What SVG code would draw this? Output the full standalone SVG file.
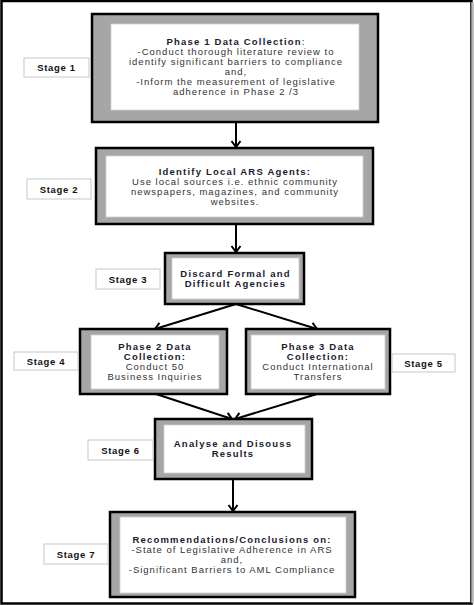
<svg xmlns="http://www.w3.org/2000/svg" width="474" height="605" viewBox="0 0 474 605">
<defs>
<style>
.outer{fill:#a6a6a6;stroke:#000;stroke-width:2.5}
.inner{fill:#fff;stroke:#d0d0d0;stroke-width:0.8}
.stage{fill:#fff;stroke:#c8c8c8;stroke-width:1}
.st{font-family:"Liberation Sans",Arial,sans-serif;font-size:9.5px;font-weight:bold;fill:#111;text-anchor:middle;letter-spacing:0.7px}
.t{font-family:"Liberation Sans",Arial,sans-serif;font-size:9.5px;fill:#333;text-anchor:middle;letter-spacing:1px}
.b{font-family:"Liberation Sans",Arial,sans-serif;font-size:9.5px;font-weight:bold;fill:#1a1a2e;text-anchor:middle;letter-spacing:1.2px}
.conn{stroke:#000;stroke-width:2;fill:none}
</style>
<marker id="ah" markerWidth="12" markerHeight="12" refX="9" refY="6" orient="auto" markerUnits="userSpaceOnUse">
<path d="M3,1.5 L9,6 L3,10.5" fill="none" stroke="#000" stroke-width="2"/>
</marker>
</defs>
<rect x="0" y="0" width="474" height="605" fill="#fff"/>
<rect x="1.5" y="1" width="470" height="602.5" fill="none" stroke="#000" stroke-width="2.5"/>
<line x1="472.5" y1="2" x2="472.5" y2="603" stroke="#b5b5b5" stroke-width="2.5"/>

<g id="connectors">
<line class="conn" x1="236" y1="122" x2="236" y2="147" marker-end="url(#ah)"/>
<line class="conn" x1="236" y1="224" x2="236" y2="252" marker-end="url(#ah)"/>
<line class="conn" x1="236" y1="304" x2="155" y2="329" marker-end="url(#ah)"/>
<line class="conn" x1="236" y1="304" x2="317" y2="329" marker-end="url(#ah)"/>
<line class="conn" x1="156" y1="394" x2="232" y2="419" marker-end="url(#ah)"/>
<line class="conn" x1="317" y1="394" x2="235" y2="419" marker-end="url(#ah)"/>
<line class="conn" x1="233" y1="479" x2="233" y2="511" marker-end="url(#ah)"/>
</g>

<g id="node1">
<rect class="outer" x="92" y="14" width="286" height="108"/>
<rect class="inner" x="111" y="24" width="248" height="86"/>
<text class="b" x="236" y="45">Phase 1 Data Collection<tspan font-weight="normal">:</tspan></text>
<text class="t" x="236" y="55">-Conduct thorough literature review to</text>
<text class="t" x="236" y="65">identify significant barriers to compliance</text>
<text class="t" x="236" y="75">and,</text>
<text class="t" x="236" y="85">-Inform the measurement of legislative</text>
<text class="t" x="236" y="95">adherence in Phase 2 /3</text>
</g>
<g id="stage1"><rect class="stage" x="24" y="58" width="65" height="19"/><text class="st" x="56.5" y="71">Stage 1</text></g>

<g id="node2">
<rect class="outer" x="96" y="148" width="277" height="76"/>
<rect class="inner" x="106" y="156" width="257" height="61"/>
<text class="b" x="235" y="175">Identify Local ARS Agents:</text>
<text class="t" x="235" y="185">Use local sources i.e. ethnic community</text>
<text class="t" x="235" y="195">newspapers, magazines, and community</text>
<text class="t" x="235" y="205">websites.</text>
</g>
<g id="stage2"><rect class="stage" x="27" y="179" width="64" height="20"/><text class="st" x="59" y="192.5">Stage 2</text></g>

<g id="node3">
<rect class="outer" x="165" y="253" width="139" height="51"/>
<rect class="inner" x="172" y="258" width="127" height="41"/>
<text class="b" x="235.5" y="277">Discard Formal and</text>
<text class="b" x="235.5" y="287">Difficult Agencies</text>
</g>
<g id="stage3"><rect class="stage" x="96" y="269" width="64" height="20"/><text class="st" x="128" y="282.5">Stage 3</text></g>

<g id="node4">
<rect class="outer" x="80" y="329" width="147" height="65"/>
<rect class="inner" x="91" y="335" width="128" height="54"/>
<text class="b" x="155" y="350">Phase 2 Data</text>
<text class="b" x="155" y="360">Collection:</text>
<text class="t" x="155" y="370">Conduct 50</text>
<text class="t" x="155" y="380">Business Inquiries</text>
</g>
<g id="stage4"><rect class="stage" x="14" y="352" width="64" height="18"/><text class="st" x="46" y="364.5">Stage 4</text></g>

<g id="node5">
<rect class="outer" x="246" y="329" width="144" height="65"/>
<rect class="inner" x="251" y="335" width="134" height="54"/>
<text class="b" x="318" y="350">Phase 3 Data</text>
<text class="b" x="318" y="360">Collection:</text>
<text class="t" x="318" y="370">Conduct International</text>
<text class="t" x="318" y="380">Transfers</text>
</g>
<g id="stage5"><rect class="stage" x="392" y="354" width="63" height="18"/><text class="st" x="423.5" y="366.5">Stage 5</text></g>

<g id="node6">
<rect class="outer" x="155" y="419" width="157" height="60"/>
<rect class="inner" x="164" y="425" width="141" height="48"/>
<text class="b" x="233" y="447">Analyse and Disouss</text>
<text class="b" x="233" y="457">Results</text>
</g>
<g id="stage6"><rect class="stage" x="88" y="440" width="65" height="20"/><text class="st" x="120.5" y="453.5">Stage 6</text></g>

<g id="node7">
<rect class="outer" x="110" y="512" width="245" height="85"/>
<rect class="inner" x="120" y="517" width="226" height="76"/>
<text class="b" x="232" y="543">Recommendations/Conclusions on:</text>
<text class="t" x="232" y="553">-State of Legislative Adherence in ARS</text>
<text class="t" x="232" y="563">and,</text>
<text class="t" x="232" y="573">-Significant Barriers to AML Compliance</text>
</g>
<g id="stage7"><rect class="stage" x="44" y="544" width="64" height="20"/><text class="st" x="76" y="557.5">Stage 7</text></g>
</svg>
